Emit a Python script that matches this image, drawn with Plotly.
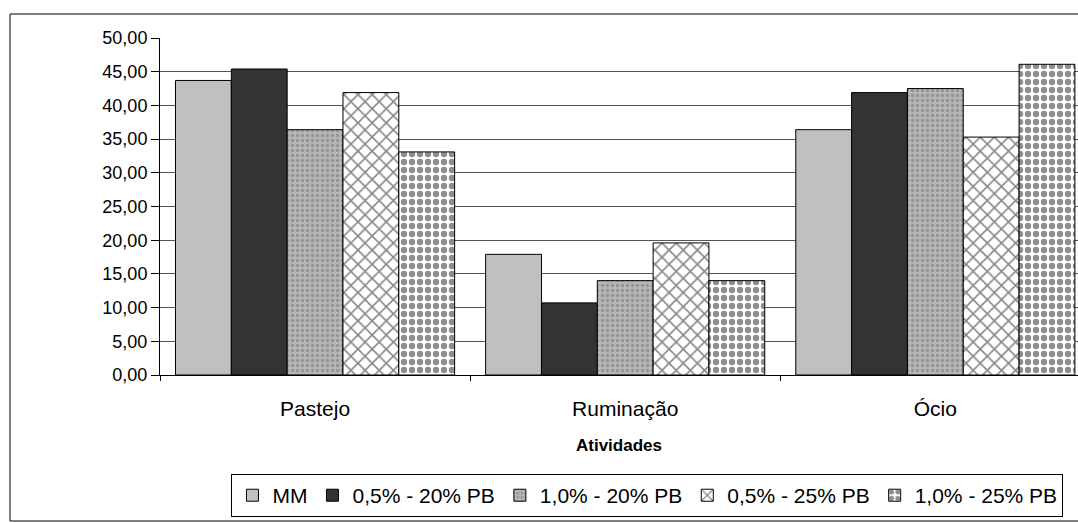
import plotly.graph_objects as go

categories = ["Pastejo", "Ruminação", "Ócio"]
series_names = ["MM", "0,5% - 20% PB", "1,0% - 20% PB", "0,5% - 25% PB", "1,0% - 25% PB"]
mm = [43.7, 17.9, 36.4]
s05_20 = [45.4, 10.7, 41.9]
s10_20 = [36.4, 14.0, 42.5]
s05_25 = [41.9, 19.6, 35.3]
s10_25 = [33.1, 14.0, 46.1]
y_ticks = [0, 5, 10, 15, 20, 25, 30, 35, 40, 45, 50]

values = [mm, s05_20, s10_20, s05_25, s10_25]
styles = [
    dict(color="#c0c0c0"),
    dict(color="#333333"),
    dict(color="#a9a9a9", pattern=dict(shape=".", fgcolor="#727272", bgcolor="#b6b6b6", size=5, solidity=0.35)),
    dict(color="white", pattern=dict(shape="x", fgcolor="#111111", bgcolor="white", size=10, solidity=0.3)),
    dict(color="white", pattern=dict(shape=".", fgcolor="#1e1e1e", bgcolor="white", size=8, solidity=0.5)),
]

fig = go.Figure()
for name, vals, st in zip(series_names, values, styles):
    marker = dict(color=st["color"], line=dict(color="black", width=1))
    if "pattern" in st:
        marker["pattern"] = st["pattern"]
    fig.add_trace(go.Bar(name=name, x=categories, y=vals, marker=marker))

font_family = "Liberation Sans, Arial, sans-serif"

fig.update_layout(
    width=1078, height=523,
    margin=dict(l=160, r=0, t=38, b=148),
    paper_bgcolor="white", plot_bgcolor="white",
    barmode="group", bargap=0.1, bargroupgap=0,
    separators=",.",
    font=dict(family=font_family, color="black"),
    showlegend=True,
    legend=dict(
        orientation="h", x=0.531, xanchor="center", y=-0.294, yanchor="top",
        bordercolor="black", borderwidth=1, font=dict(size=21),
        itemwidth=30, traceorder="normal", tracegroupgap=0,
    ),
    xaxis=dict(
        range=[-0.5, 2.46], showline=True, linecolor="black", linewidth=1,
        ticks="outside", tickson="boundaries", ticklen=5, tickcolor="black",
        tickfont=dict(size=21), showgrid=False, ticklabelstandoff=15,
        title=dict(text="<b>Atividades</b>", font=dict(size=17), standoff=19),
    ),
    yaxis=dict(
        range=[0, 50], tickvals=y_ticks, tickformat=".2f",
        showline=True, linecolor="black", linewidth=1,
        ticks="outside", ticklen=8, tickcolor="black",
        tickfont=dict(size=18), showgrid=True, gridcolor="#555555", gridwidth=1,
        zeroline=False,
    ),
    shapes=[dict(type="rect", xref="paper", yref="paper",
                 x0=(10 - 160) / 918, x1=1.02, y0=(375 - 521) / 337, y1=(375 - 14) / 337,
                 line=dict(color="black", width=1), fillcolor="rgba(0,0,0,0)", layer="below")],
)

fig.write_html("out.html", config={"displayModeBar": False},
               post_script="document.body.style.margin='0px';")
